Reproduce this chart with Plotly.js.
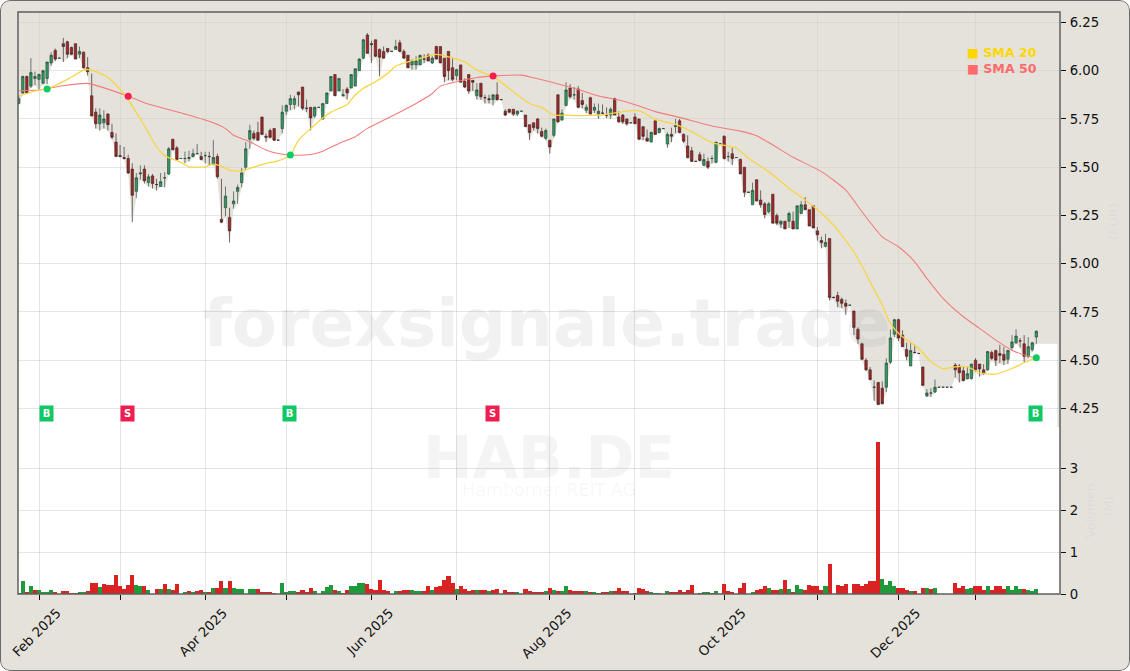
<!DOCTYPE html>
<html>
<head>
<meta charset="utf-8">
<script src="https://cdn.plot.ly/plotly-3.0.1.min.js"></script>
<style>
html,body{margin:0;padding:0;background:#fff;}
#wrap{position:relative;width:1130px;height:671px;overflow:hidden;border-radius:10px;}
#wrap::after{content:"";position:absolute;inset:0;border:1.5px solid #6b6b6b;border-radius:10px;pointer-events:none;box-sizing:border-box;}
#chart{width:1130px;height:671px;}
</style>
</head>
<body>
<div id="wrap"><div id="chart"></div></div>
<script>
const open = [
5.83,5.885,5.97,5.92,5.96,5.955,5.935,5.96,6.04,6.105,
6.065,6.14,6.15,6.12,6.14,6.085,6.095,6.015,5.87,5.785,
5.725,5.73,5.775,5.68,5.63,5.56,5.55,5.545,5.49,5.375,
5.465,5.49,5.42,5.455,5.41,5.40,5.445,5.465,5.645,5.60,
5.545,5.545,5.545,5.555,5.57,5.555,5.56,5.555,5.515,5.555,
5.23,5.29,5.24,5.31,5.375,5.42,5.50,5.645,5.675,5.68,
5.76,5.66,5.69,5.70,5.64,5.70,5.79,5.825,5.825,5.89,
5.915,5.805,5.81,5.765,5.81,5.75,5.83,5.895,5.98,5.895,
5.87,5.905,5.91,5.92,6.0,6.065,6.185,6.14,6.16,6.11,
6.10,6.115,6.10,6.11,6.145,6.10,6.08,6.03,6.03,6.03,
6.06,6.08,6.04,6.125,6.125,6.065,6.10,6.015,5.975,6.03,
5.945,5.98,5.95,5.87,5.935,5.86,5.855,5.85,5.875,5.85,
5.79,5.80,5.80,5.775,5.79,5.77,5.72,5.73,5.75,5.685,
5.65,5.64,5.665,5.875,5.745,5.82,5.91,5.875,5.905,5.845,
5.795,5.86,5.795,5.775,5.78,5.77,5.77,5.855,5.76,5.77,
5.75,5.73,5.76,5.75,5.71,5.65,5.63,5.74,5.68,5.70,
5.62,5.67,5.71,5.74,5.67,5.61,5.585,5.53,5.565,5.51,
5.53,5.545,5.525,5.62,5.66,5.555,5.57,5.55,5.54,5.50,
5.37,5.305,5.435,5.33,5.31,5.27,5.36,5.25,5.205,5.22,
5.22,5.22,5.18,5.26,5.305,5.28,5.30,5.17,5.12,5.09,
5.13,4.825,4.835,4.815,4.795,4.785,4.755,4.66,4.585,4.50,
4.45,4.36,4.385,4.355,4.36,4.49,4.635,4.71,4.63,4.555,
4.47,4.54,4.535,4.465,4.315,4.33,4.335,4.36,4.36,4.36,
4.36,4.475,4.47,4.445,4.405,4.405,4.50,4.48,4.45,4.45,
4.54,4.55,4.535,4.53,4.505,4.565,4.59,4.60,4.585,4.52,
4.555,4.62];
const close = [
5.855,5.97,5.885,5.99,5.97,5.98,6.0,6.045,6.08,6.06,
6.065,6.125,6.085,6.085,6.06,6.10,6.015,5.995,5.765,5.725,
5.77,5.75,5.72,5.655,5.555,5.555,5.545,5.47,5.355,5.445,
5.47,5.43,5.45,5.415,5.41,5.425,5.445,5.595,5.59,5.54,
5.545,5.545,5.55,5.57,5.57,5.54,5.56,5.555,5.55,5.45,
5.215,5.35,5.17,5.325,5.395,5.47,5.595,5.69,5.65,5.64,
5.67,5.655,5.655,5.64,5.64,5.785,5.82,5.855,5.855,5.875,
5.805,5.805,5.755,5.81,5.81,5.83,5.885,5.97,5.87,5.96,
5.875,5.885,5.98,6.01,6.06,6.16,6.09,6.135,6.075,6.07,
6.065,6.10,6.10,6.125,6.10,6.065,6.015,6.05,6.05,6.08,
6.06,6.05,6.065,6.06,6.04,5.97,6.0,5.955,6.005,5.94,
5.915,5.895,5.94,5.90,5.865,5.86,5.85,5.875,5.85,5.85,
5.77,5.785,5.775,5.79,5.79,5.71,5.68,5.705,5.70,5.66,
5.69,5.605,5.75,5.735,5.78,5.90,5.865,5.875,5.81,5.825,
5.81,5.775,5.81,5.79,5.78,5.77,5.80,5.77,5.735,5.735,
5.725,5.73,5.725,5.645,5.66,5.635,5.68,5.67,5.70,5.70,
5.67,5.66,5.715,5.68,5.635,5.55,5.53,5.53,5.535,5.54,
5.50,5.545,5.63,5.62,5.545,5.555,5.545,5.55,5.465,5.37,
5.37,5.38,5.325,5.305,5.255,5.31,5.21,5.21,5.22,5.18,
5.26,5.18,5.30,5.305,5.28,5.195,5.185,5.15,5.11,5.11,
4.825,4.825,4.805,4.795,4.78,4.785,4.67,4.61,4.505,4.45,
4.40,4.36,4.27,4.275,4.485,4.615,4.71,4.615,4.57,4.52,
4.55,4.54,4.535,4.37,4.33,4.33,4.36,4.36,4.36,4.36,
4.36,4.45,4.435,4.395,4.43,4.48,4.45,4.455,4.43,4.545,
4.51,4.50,4.525,4.50,4.55,4.595,4.625,4.60,4.52,4.57,
4.59,4.65];
const high = [
5.87,5.975,5.975,6.065,5.995,5.985,6.005,6.045,6.095,6.115,
6.065,6.17,6.155,6.125,6.14,6.125,6.10,6.07,5.985,5.805,
5.805,5.795,5.78,5.725,5.675,5.615,5.605,5.565,5.52,5.47,
5.51,5.51,5.465,5.465,5.44,5.47,5.475,5.605,5.645,5.61,
5.545,5.58,5.585,5.595,5.62,5.58,5.58,5.58,5.64,5.57,
5.44,5.40,5.29,5.375,5.41,5.495,5.63,5.72,5.69,5.735,
5.76,5.675,5.70,5.70,5.64,5.82,5.825,5.875,5.87,5.89,
5.915,5.85,5.81,5.815,5.81,5.83,5.885,5.97,5.98,5.96,
5.905,5.915,5.98,6.01,6.065,6.165,6.195,6.155,6.16,6.115,
6.125,6.115,6.10,6.16,6.16,6.11,6.08,6.06,6.075,6.08,
6.085,6.09,6.075,6.13,6.125,6.065,6.10,6.065,6.01,6.03,
5.96,5.98,5.95,5.935,5.935,5.875,5.875,5.875,5.94,5.85,
5.80,5.80,5.80,5.795,5.79,5.77,5.72,5.73,5.755,5.705,
5.70,5.64,5.75,5.875,5.80,5.94,5.93,5.915,5.92,5.885,
5.825,5.865,5.83,5.83,5.825,5.81,5.81,5.86,5.79,5.775,
5.75,5.73,5.78,5.75,5.71,5.695,5.685,5.74,5.705,5.70,
5.68,5.705,5.75,5.75,5.675,5.665,5.605,5.53,5.58,5.57,
5.55,5.56,5.63,5.625,5.665,5.58,5.60,5.55,5.545,5.50,
5.37,5.42,5.435,5.38,5.32,5.32,5.36,5.26,5.225,5.22,
5.27,5.27,5.30,5.325,5.345,5.28,5.30,5.19,5.14,5.155,
5.13,4.83,4.855,4.825,4.815,4.785,4.755,4.67,4.59,4.51,
4.465,4.395,4.385,4.39,4.51,4.66,4.715,4.715,4.655,4.59,
4.595,4.58,4.535,4.465,4.35,4.355,4.40,4.36,4.36,4.36,
4.36,4.485,4.48,4.465,4.465,4.48,4.51,4.48,4.48,4.545,
4.55,4.555,4.58,4.57,4.555,4.63,4.66,4.615,4.63,4.62,
4.595,4.655];
const low = [
5.825,5.88,5.88,5.91,5.925,5.90,5.93,5.93,6.025,6.05,
6.065,6.045,6.065,6.08,6.06,6.065,6.01,5.975,5.765,5.70,
5.69,5.70,5.69,5.645,5.555,5.555,5.54,5.465,5.215,5.34,
5.435,5.415,5.40,5.39,5.38,5.40,5.395,5.46,5.59,5.535,
5.545,5.52,5.53,5.55,5.57,5.535,5.52,5.51,5.51,5.44,
5.21,5.245,5.11,5.285,5.31,5.395,5.485,5.595,5.64,5.635,
5.67,5.63,5.65,5.635,5.64,5.675,5.77,5.795,5.80,5.815,
5.795,5.785,5.69,5.755,5.81,5.745,5.83,5.895,5.87,5.895,
5.865,5.85,5.91,5.92,6.0,6.06,6.09,6.04,6.07,5.97,
6.065,6.09,6.10,6.11,6.095,6.063,6.015,6.005,6.005,6.03,
6.04,6.05,6.035,6.06,6.04,5.94,5.95,5.945,5.95,5.94,
5.91,5.88,5.895,5.85,5.85,5.83,5.83,5.82,5.845,5.85,
5.765,5.78,5.765,5.765,5.79,5.71,5.64,5.69,5.675,5.655,
5.64,5.57,5.655,5.73,5.74,5.815,5.855,5.85,5.805,5.805,
5.78,5.775,5.78,5.75,5.77,5.755,5.75,5.77,5.73,5.725,
5.715,5.73,5.725,5.64,5.64,5.635,5.63,5.67,5.675,5.70,
5.60,5.63,5.675,5.675,5.625,5.545,5.53,5.53,5.53,5.505,
5.49,5.52,5.52,5.615,5.54,5.53,5.51,5.55,5.465,5.345,
5.37,5.305,5.325,5.29,5.235,5.26,5.21,5.20,5.185,5.18,
5.185,5.18,5.18,5.26,5.28,5.195,5.185,5.12,5.08,5.085,
4.81,4.82,4.775,4.77,4.735,4.785,4.63,4.585,4.50,4.445,
4.395,4.29,4.27,4.27,4.335,4.48,4.62,4.60,4.57,4.50,
4.47,4.535,4.535,4.365,4.31,4.31,4.33,4.36,4.36,4.36,
4.36,4.41,4.385,4.39,4.40,4.40,4.44,4.415,4.425,4.445,
4.50,4.47,4.485,4.475,4.48,4.555,4.585,4.565,4.49,4.51,
4.545,4.585];
const volume = [
.02,.30,.06,.18,.10,.10,.055,.055,.10,.055,
.01,.08,.08,.025,.025,.055,.055,.08,.27,.27,
.16,.25,.22,.22,.46,.18,.13,.22,.46,.22,
.18,.20,.10,.01,.13,.13,.25,.13,.10,.25,
0,.055,.08,.055,.08,.10,.055,.055,.15,.15,
.32,.15,.32,.15,.13,.13,.01,.13,.13,.13,
.055,.055,.055,.03,0,.27,.04,.08,.08,.04,
.10,.05,.15,.08,0,.08,.16,.22,.10,.08,
.03,.10,.18,.18,.27,.27,.25,.13,.10,.34,
.10,.08,.01,.08,.08,.10,.10,.10,.07,.07,
.08,.18,.10,.16,.18,.34,.42,.27,.13,.18,
.13,.08,.10,.10,.10,.10,.07,.10,.13,0,
.10,.055,.055,.05,0,.13,.08,.055,.04,.05,
.08,.15,.10,.08,.08,.20,.10,.08,.08,.065,
.08,.05,.04,.03,.055,.055,.08,.08,.15,.065,
.08,0,.03,.15,.13,.065,.055,.03,.025,0,
.08,.05,.055,.10,.055,.10,.22,0,.03,.05,
.05,.03,.08,0,.25,.08,.055,0,.15,.27,
0,.05,.10,.13,.20,.15,.10,.10,.13,.34,
.13,.055,.22,.12,.10,.22,.20,.20,.10,.18,
.73,0,.22,.18,.25,0,.25,.25,.20,.25,
.32,.30,3.63,.37,.22,.30,.20,.15,.15,.10,
.08,.08,0,.15,.15,.13,.15,0,0,0,
0,.27,.15,.20,.13,.15,.18,.18,.10,.20,
.10,.20,.18,.13,.18,.10,.18,.13,.13,.10,
.08,.13];
const volumeSide =
"GGRGRGGGGR"+"RRRRRGGRRR"+"GRRRRRRRRG"+"GRGRRGRGRR"+"RGRGRRGRGR"+
"RGRGGGGGGR"+"RRRRRGGGGR"+"RRRGGGGGRG"+"RRGGGGRRRR"+"RRRGRRRGGG"+
"RRGRRRRRGR"+"RRRGRRGRRR"+"RRRGGRRRRR"+"GRGRGGRRRR"+"GRGGRRGRRR"+
"RRRRRRGGGG"+"GRRRRRRRRG"+"GRGGRRRRRR"+"RGRRRGRRGR"+"GRGGRRRRRG"+
"RRRRRRRRRR"+"RRRGGGGRRR"+"GRRRGRGGGG"+"GRRRGGRRRG"+"RRRRGGGGRG"+"GG";

const sma20Bars = [0,5,7,12,16,17,19,22,26,27,31,34,36,40,42,46,48,50,52,55,58,61,64,67,69,72,75,77,81,83,85,88,91,93,96,98,101,103,106,110,113,117,121,126,129,132,135,139,145,149,153,157,162,166,171,177,180,185,190,194,199,203,207,210,213,215,218,222,225,228,231,234,237,241,245,248,251];
const sma20 = [5.868,5.90,5.905,5.955,6.003,6.006,5.995,5.965,5.88,5.85,5.715,5.605,5.56,5.525,5.502,5.502,5.516,5.505,5.485,5.48,5.50,5.52,5.533,5.563,5.64,5.70,5.755,5.785,5.825,5.874,5.908,5.943,5.986,6.024,6.046,6.058,6.076,6.084,6.072,6.046,6.003,5.969,5.908,5.83,5.81,5.77,5.77,5.767,5.774,5.788,5.793,5.748,5.722,5.684,5.627,5.598,5.546,5.477,5.39,5.33,5.243,5.148,5.027,4.906,4.785,4.69,4.621,4.561,4.492,4.456,4.466,4.466,4.435,4.428,4.457,4.487,4.513];
const sma50Bars = [0,5,7,11,17,19,27,31,36,41,48,51,53,57,61,64,67,72,75,79,83,86,91,95,98,102,104,108,113,117,124,127,131,134,139,143,148,153,157,163,171,178,182,186,191,198,204,208,213,217,221,224,228,233,237,241,245,249,251];
const sma50 = [5.896,5.90,5.908,5.922,5.934,5.924,5.868,5.834,5.804,5.775,5.73,5.70,5.665,5.632,5.589,5.571,5.563,5.566,5.583,5.623,5.658,5.701,5.753,5.796,5.83,5.882,5.92,5.943,5.965,5.972,5.977,5.963,5.943,5.926,5.896,5.869,5.848,5.817,5.788,5.758,5.713,5.687,5.663,5.615,5.551,5.477,5.381,5.269,5.139,5.088,5.01,4.924,4.82,4.725,4.665,4.604,4.552,4.521,4.513];

const buyBars = [7,67,251];
const buyPrices = [5.905,5.563,4.513];
const sellBars = [27,117];
const sellPrices = [5.868,5.972];
const signalLabelPrice = 4.224;

const monthBars = [5,25,46,66,87,108,131,152,174,197,217,236];
const monthLabels = ["Feb 2025","","Apr 2025","","Jun 2025","","Aug 2025","","Oct 2025","","Dec 2025",""];
const priceTicks = [4.25,4.5,4.75,5,5.25,5.5,5.75,6,6.25];
const volumeTicks = [0,1,2,3];

const xRange = [-0.18,256.84];
const priceRange = [4.154,6.304];
const volumeRange = [0,4.0];
const maskEnd = 256.15;

const BEIGE = '#E5E2DC';
const idx = open.map((_,i)=>i);
const px = v => (v-18)/1042;
const py = v => (594-v)/582;

const traces = [
  {type:'scatter',mode:'lines',yaxis:'y',hoverinfo:'skip',showlegend:false,zorder:-1,
   x:[xRange[0],...idx,maskEnd,maskEnd,xRange[1],xRange[1],xRange[0]],
   y:[low[0],...low,low[low.length-1],priceRange[0],priceRange[0],priceRange[1],priceRange[1]],
   fill:'toself',fillcolor:'rgba(212,207,197,0.6)',line:{width:0}},
  {type:'candlestick',x:idx,open,high,low,close,yaxis:'y',showlegend:false,hoverinfo:'skip',
   whiskerwidth:0,
   increasing:{line:{color:'#2f4a3c',width:0.7},fillcolor:'#2a9d61'},
   decreasing:{line:{color:'#3f2a2a',width:0.7},fillcolor:'#ad2222'}},
  {type:'scatter',mode:'lines',x:sma50Bars,y:sma50,yaxis:'y',hoverinfo:'skip',showlegend:false,zorder:1,
   line:{color:'#F27C7C',width:1.1,shape:'spline',smoothing:0.6}},
  {type:'scatter',mode:'lines',x:sma20Bars,y:sma20,yaxis:'y',hoverinfo:'skip',showlegend:false,zorder:1,
   line:{color:'#F7D544',width:1.3,shape:'spline',smoothing:0.6}},
  {type:'scatter',mode:'markers',x:buyBars,y:buyPrices,yaxis:'y',hoverinfo:'skip',showlegend:false,zorder:2,
   marker:{color:'#0ECB62',size:7}},
  {type:'scatter',mode:'markers',x:sellBars,y:sellPrices,yaxis:'y',hoverinfo:'skip',showlegend:false,zorder:2,
   marker:{color:'#F61E4F',size:7}},
  {type:'bar',x:idx,y:volume,yaxis:'y2',hoverinfo:'skip',showlegend:false,width:1,
   marker:{color:volumeSide.split('').map(s=>s==='G'?'#1F9A3A':'#D92323'),line:{width:0}}}
];

const watermark = (text,xp,yp,size,bold,color)=>({xref:'paper',yref:'paper',x:px(xp),y:py(yp),xanchor:'center',yanchor:'middle',
  text:bold?'<b>'+text+'</b>':text,showarrow:false,font:{family:'DejaVu Sans',size,color}});
const sideText = (text,xp,yp,size)=>({xref:'paper',yref:'paper',x:px(xp),y:py(yp),xanchor:'center',yanchor:'middle',
  text,textangle:-90,showarrow:false,font:{family:'DejaVu Sans',size,color:'rgba(150,150,150,0.10)'}});
const legendItem = (text,yp,color)=>({xref:'paper',yref:'paper',x:px(1039),y:py(yp),xanchor:'right',yanchor:'middle',
  text:'<b>'+text+'</b>',showarrow:false,font:{family:'DejaVu Sans',size:12.6,color}});
const badge = (text,bar,color)=>({xref:'x',yref:'y',x:bar,y:signalLabelPrice,xshift:-0.7,xanchor:'center',yanchor:'middle',
  text:'<b>'+text+'</b>',showarrow:false,width:13,height:15,bgcolor:color,borderpad:0,font:{family:'DejaVu Sans',size:10,color:'#fff'}});

const layout = {
  width:1130,height:671,
  margin:{l:18,r:70,t:12,b:77,pad:0},
  paper_bgcolor:BEIGE,plot_bgcolor:'#ffffff',
  font:{family:'DejaVu Sans',size:13.3,color:'#111'},
  showlegend:false,bargap:0,boxgap:0.17,
  xaxis:{type:'linear',range:xRange,anchor:'y2',tickmode:'array',tickvals:monthBars,ticktext:monthLabels,
    tickangle:-45,ticklabelshift:18,ticks:'outside',ticklen:5,tickcolor:'#111',tickwidth:1,
    showgrid:true,gridcolor:'rgba(0,0,0,0.10)',gridwidth:1,zeroline:false,showline:false,
    rangeslider:{visible:false},tickfont:{family:'DejaVu Sans',size:13.3,color:'#111'}},
  yaxis:{domain:[167/582,1],range:priceRange,side:'right',anchor:'x',tickmode:'array',tickvals:priceTicks,
    tickformat:'.2f',ticks:'outside',ticklen:5,tickcolor:'#111',showgrid:true,gridcolor:'rgba(0,0,0,0.10)',
    ticklabelstandoff:1,zeroline:false,showline:false,tickfont:{family:'DejaVu Sans',size:13.3,color:'#111'}},
  yaxis2:{domain:[0,167/582],range:volumeRange,side:'right',anchor:'x',tickmode:'array',tickvals:volumeTicks,
    ticks:'outside',ticklen:5,tickcolor:'#111',showgrid:true,gridcolor:'rgba(0,0,0,0.10)',
    ticklabelstandoff:1,zeroline:false,showline:false,tickfont:{family:'DejaVu Sans',size:13.3,color:'#111'}},
  shapes:[{type:'rect',xref:'paper',yref:'paper',x0:0,x1:1,y0:0,y1:1,line:{color:'#5f5f5f',width:1.5},fillcolor:'rgba(0,0,0,0)'}],
  annotations:[
    watermark('forexsignale.trade',546.5,323,66,true,'rgba(120,120,120,0.10)'),
    watermark('HAB.DE',548.5,458,59,true,'rgba(120,120,120,0.08)'),
    watermark('Hamborner REIT AG',549,490,17.5,false,'rgba(120,120,120,0.06)'),
    sideText('Volumen',1090,511,12.6),
    sideText('(M)',1109,506,12),
    sideText('(EUR)',1113,222,13),
    legendItem('■ SMA 20',53,'#FFD700'),
    legendItem('■ SMA 50',68.7,'#FF6B6B'),
    ...buyBars.map(b=>badge('B',b,'#0EC864')),
    ...sellBars.map(b=>badge('S',b,'#F01E50'))
  ]
};
Plotly.newPlot('chart',traces,layout,{displayModeBar:false,staticPlot:true,responsive:false});
</script>
</body>
</html>
